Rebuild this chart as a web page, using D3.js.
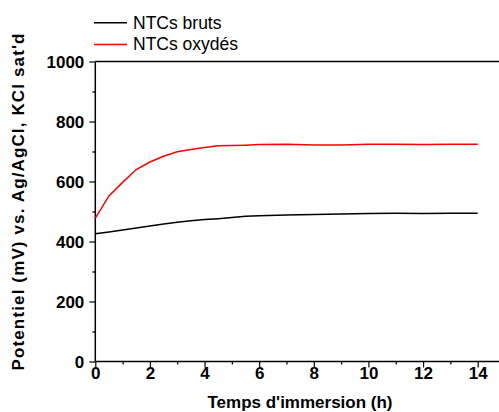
<!DOCTYPE html>
<html><head><meta charset="utf-8">
<script src="https://cdn.jsdelivr.net/npm/d3@7"></script>
<style>html,body{margin:0;padding:0;background:#fff;}svg{display:block;font-family:"Liberation Sans",Arial,sans-serif;}</style>
</head><body>
<svg id="c" width="499" height="412"></svg>
<script>
const time = [0,0.5,1,1.5,2,2.5,3,3.5,4,4.5,5,5.5,6,7,8,9,10,11,12,13,14];
const bruts = [426,432,438,445,452,458,464,469,473,476,480,484,486,488,490,492,493,494,493,494,494];
const oxydes = [478,552,597,640,665,684,699,707,713,719,720,721,723,724,722,722,724,724,723,724,724];
const seriesNames = ["NTCs bruts","NTCs oxydés"];
const seriesColors = ["#000000","#ff0000"];
const xTicks = [0,2,4,6,8,10,12,14];
const yTicks = [0,200,400,600,800,1000];

const svg = d3.select("#c");
const x = d3.scaleLinear().domain([0,15]).range([95.3, 505]);
const y = d3.scaleLinear().domain([0,1000]).range([361.5, 61.5]);

// top border
svg.append("line").attr("x1",x(0)).attr("x2",505).attr("y1",y(1000)).attr("y2",y(1000))
  .attr("stroke","#000").attr("stroke-width",1.5);

// minor ticks
const gxm = svg.append("g").attr("transform",`translate(0,${y(0)})`)
  .call(d3.axisBottom(x).tickValues(d3.range(1,15,2)).tickSize(3).tickFormat(""));
const gym = svg.append("g").attr("transform",`translate(${x(0)},0)`)
  .call(d3.axisLeft(y).tickValues(d3.range(100,1000,200)).tickSize(3).tickFormat(""));
[gxm,gym].forEach(g=>{g.select(".domain").remove();g.selectAll("line").attr("stroke","#000").attr("stroke-width",1.2);});

const gx = svg.append("g").attr("transform",`translate(0,${y(0)})`)
  .call(d3.axisBottom(x).tickValues(xTicks).tickSize(6).tickFormat(d3.format("d")));
const gy = svg.append("g").attr("transform",`translate(${x(0)},0)`)
  .call(d3.axisLeft(y).tickValues(yTicks).tickSize(6).tickFormat(d3.format("d")));
[gx,gy].forEach(g=>{
  g.select(".domain").attr("stroke","#000").attr("stroke-width",1.5);
  g.selectAll("line").attr("stroke","#000").attr("stroke-width",1.2);
  g.selectAll("text").attr("fill","#000").style("font-size","17px").style("font-weight","bold")
   .style("font-family","'Liberation Sans',Arial,sans-serif");
});
gx.select(".domain").attr("d",`M${x(0)},0H505`);
gy.select(".domain").attr("d",`M0,${y(0)}V${y(1000)}`);
gx.selectAll("text").attr("y",17).attr("dy",null);
gy.selectAll("text").attr("x",-11).attr("dy","0.35em");

// lines
const line = d3.line().x((d,i)=>x(time[i])).y(d=>y(d));
[bruts,oxydes].forEach((s,k)=>{
  svg.append("path").datum(s).attr("d",line).attr("fill","none")
    .attr("stroke",seriesColors[k]).attr("stroke-width",1.5);
});

// legend
seriesNames.forEach((n,k)=>{
  const ly = 22.7 + k*21.7;
  svg.append("line").attr("x1",94).attr("x2",127).attr("y1",ly).attr("y2",ly)
    .attr("stroke",seriesColors[k]).attr("stroke-width",1.5);
  svg.append("text").attr("x",133).attr("y",ly+5.8).text(n)
    .style("font-size","17.5px").attr("fill","#000");
});

// axis titles
svg.append("text").attr("x",300).attr("y",407.5).attr("text-anchor","middle")
  .style("font-size","17px").style("font-weight","bold").text("Temps d'immersion (h)");
svg.append("text").attr("transform","translate(24,202) rotate(-90)").attr("text-anchor","middle")
  .style("font-size","17px").style("font-weight","bold")
  .attr("textLength",337).attr("lengthAdjust","spacing")
  .text("Potentiel (mV) vs. Ag/AgCl, KCl sat'd");
</script>
</body></html>
